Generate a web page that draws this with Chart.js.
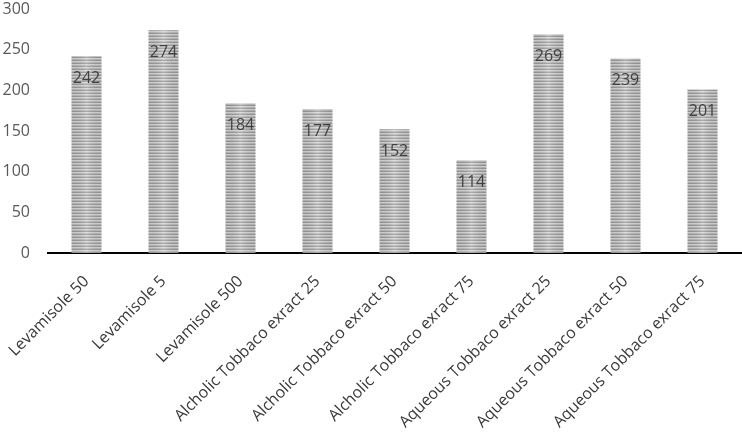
<!DOCTYPE html>
<html>
<head>
<meta charset="utf-8">
<script src="https://cdn.jsdelivr.net/npm/chart.js@4"></script>
<style>
  html, body { margin: 0; padding: 0; background: #fff; }
  #wrap { width: 742px; height: 435px; }
</style>
</head>
<body>
<div id="wrap"><canvas id="mycanvas"></canvas></div>
<script>
var categories = ['Levamisole 50', 'Levamisole 5', 'Levamisole 500',
  'Alcholic Tobbaco exract 25', 'Alcholic Tobbaco exract 50', 'Alcholic Tobbaco exract 75',
  'Aqueous Tobbaco exract 25', 'Aqueous Tobbaco exract 50', 'Aqueous Tobbaco exract 75'];
var values = [242, 274, 184, 177, 152, 114, 269, 239, 201];
var yTicks = [0, 50, 100, 150, 200, 250, 300];

// striped fill like the office "horizontal lines" pattern
function stripePattern() {
  var c = document.createElement('canvas');
  c.width = 8; c.height = 3;
  var g = c.getContext('2d');
  var rows = ['#9a9a9a', '#d6d6d6', '#bababa'];
  for (var i = 0; i < rows.length; i++) {
    g.fillStyle = rows[i];
    g.fillRect(0, i, 8, 1);
  }
  return g.createPattern(c, 'repeat');
}

var valueLabels = {
  id: 'valueLabels',
  afterDatasetsDraw: function(chart) {
    var ctx = chart.ctx;
    var meta = chart.getDatasetMeta(0);
    ctx.save();
    // soft sheen across each bar
    meta.data.forEach(function(bar) {
      var half = bar.width / 2;
      var gr = ctx.createLinearGradient(bar.x - half, 0, bar.x + half, 0);
      gr.addColorStop(0, 'rgba(0,0,0,0.06)');
      gr.addColorStop(0.5, 'rgba(255,255,255,0.18)');
      gr.addColorStop(1, 'rgba(0,0,0,0.06)');
      ctx.fillStyle = gr;
      ctx.fillRect(bar.x - half, bar.y, bar.width, bar.base - bar.y);
    });
    ctx.font = '16px "Open Sans"';
    ctx.fillStyle = '#404040';
    ctx.textAlign = 'center';
    ctx.textBaseline = 'middle';
    meta.data.forEach(function(bar, i) {
      ctx.fillText(values[i], bar.x, bar.y + 22);
    });
    ctx.restore();
  }
};

var ctx = document.getElementById('mycanvas');
var barGraph = new Chart(ctx, {
  type: 'bar',
  data: {
    labels: categories,
    datasets: [{
      data: values,
      backgroundColor: stripePattern(),
      borderWidth: 0,
      barPercentage: 0.39,
      categoryPercentage: 1
    }]
  },
  options: {
    responsive: true,
    maintainAspectRatio: false,
    animation: false,
    layout: { padding: { top: 9, right: 1, left: 0, bottom: 0 } },
    plugins: {
      legend: { display: false },
      tooltip: { enabled: false }
    },
    scales: {
      x: {
        grid: { display: false },
        border: { display: true, color: '#000', width: 2 },
        ticks: {
          color: '#3a3a3a',
          font: { family: 'Open Sans', size: 16 },
          minRotation: 45,
          maxRotation: 45,
          padding: 11
        },
        afterFit: function(axis) {
          axis.height = 182;
          axis.paddingLeft = 0;
          axis.paddingRight = 0;
        }
      },
      y: {
        min: 0,
        max: 300,
        afterBuildTicks: function(axis) {
          axis.ticks = yTicks.map(function(v) { return { value: v }; });
        },
        grid: { display: false },
        border: { display: false },
        ticks: {
          color: '#595959',
          font: { family: 'Open Sans', size: 16 },
          padding: 10
        },
        afterFit: function(axis) {
          axis.width = 48;
          axis.paddingTop = 0;
          axis.paddingBottom = 0;
        }
      }
    }
  },
  plugins: [valueLabels]
});
</script>
</body>
</html>
